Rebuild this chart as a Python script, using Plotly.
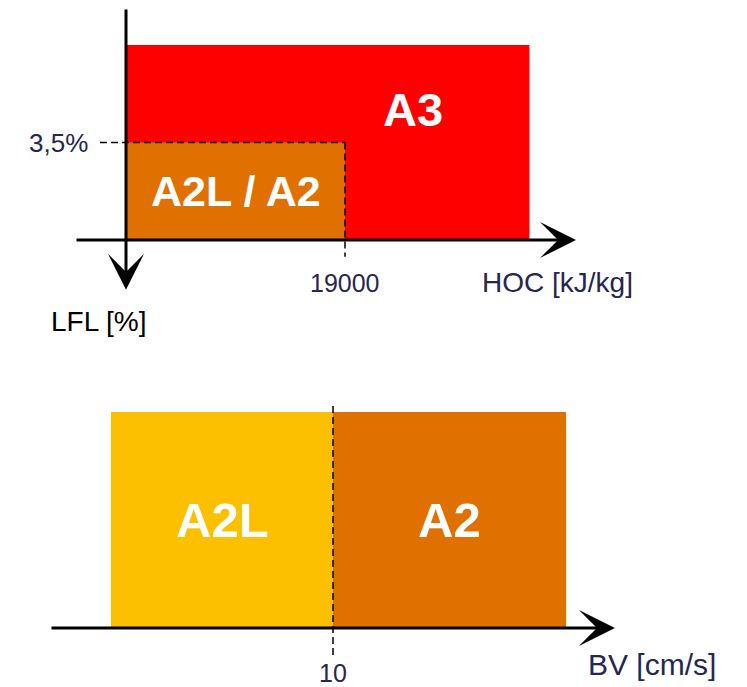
import plotly.graph_objects as go

# ---- data (schematic classification thresholds) ----
hoc_threshold = 19000          # kJ/kg
lfl_threshold = 3.5            # %
hoc_max = 35000                # right edge of A3 region
lfl_axis = 7.0                 # LFL value at HOC axis
bv_edges = [0, 10, 20.5]       # cm/s : A2L | A2
bv_height = 1.0
top_labels = ["A3", "A2L / A2"]
bottom_labels = ["A2L", "A2"]
tick_hoc = "19000"
tick_lfl = "3,5%"
tick_bv = "10"

RED = "#FF0000"
ORANGE = "#E07000"
YELLOW = "#FDC000"
TXT = "#262650"
FONT = "Liberation Sans, Arial, sans-serif"

W, H = 747, 687
split = 1 - 345 / H

fig = go.Figure()

# ---- top panel: shapes ----
fig.add_shape(type="rect", xref="x", yref="y", x0=0, x1=hoc_max, y0=0, y1=lfl_axis,
              fillcolor=RED, line_width=0, layer="below")
fig.add_shape(type="rect", xref="x", yref="y", x0=0, x1=hoc_threshold, y0=lfl_threshold, y1=lfl_axis,
              fillcolor=ORANGE, line_width=0, layer="below")
dash = "7px,4px"
fig.add_shape(type="line", xref="x", yref="y", x0=-2256, x1=hoc_threshold, y0=lfl_threshold, y1=lfl_threshold,
              line=dict(color="black", width=1.5, dash=dash))
fig.add_shape(type="line", xref="x", yref="y", x0=hoc_threshold, x1=hoc_threshold, y0=lfl_threshold, y1=7.6,
              line=dict(color="black", width=1.5, dash=dash))

# ---- bottom panel: shapes ----
fig.add_shape(type="rect", xref="x2", yref="y2", x0=bv_edges[0], x1=bv_edges[1], y0=0, y1=bv_height,
              fillcolor=YELLOW, line_width=0, layer="below")
fig.add_shape(type="rect", xref="x2", yref="y2", x0=bv_edges[1], x1=bv_edges[2], y0=0, y1=bv_height,
              fillcolor=ORANGE, line_width=0, layer="below")
fig.add_shape(type="line", xref="x2", yref="y2", x0=bv_edges[1], x1=bv_edges[1], y0=-0.125, y1=1.04,
              line=dict(color="black", width=1.5, dash=dash))

anns = []
def arrow(x, y, ax, ay, xr, yr):
    anns.append(dict(x=x, y=y, ax=ax, ay=ay, xref=xr, yref=yr, axref=xr, ayref=yr,
                     text="", showarrow=True, arrowhead=3, arrowwidth=3, arrowsize=2,
                     arrowcolor="black", standoff=0))

arrow(39040, lfl_axis, -4425, lfl_axis, "x", "y")      # HOC axis
arrow(0, 8.79, 0, -1.33, "x", "y")                     # LFL axis (downwards)
arrow(22.7, 0, -2.75, 0, "x2", "y2")                   # BV axis

def label(x, y, text, xr, yr, size, color=TXT, bold=False, xanchor="center"):
    anns.append(dict(x=x, y=y, xref=xr, yref=yr, text=f"<b>{text}</b>" if bold else text,
                     showarrow=False, xanchor=xanchor, yanchor="middle",
                     font=dict(family=FONT, size=size, color=color)))

label(-3123, lfl_threshold, tick_lfl, "x", "y", 26, xanchor="right")
label(hoc_threshold, 8.54, tick_hoc, "x", "y", 25)
label(30712, 8.54, "HOC [kJ/kg]", "x", "y", 28, xanchor="left")
label(-2429, 9.94, "LFL [%]", "x", "y", 28, color="black")
label(24900, 2.33, top_labels[0], "x", "y", 47, color="white", bold=True)
label((0 + hoc_threshold) / 2, (lfl_threshold + lfl_axis) / 2, top_labels[1], "x", "y", 43,
      color="white", bold=True)

label(bv_edges[1], -0.21, tick_bv, "x2", "y2", 25)
label(21.4, -0.171, "BV [cm/s]", "x2", "y2", 30, xanchor="left")
label((bv_edges[0] + bv_edges[1]) / 2, 0.5, bottom_labels[0], "x2", "y2", 49, color="white", bold=True)
label((bv_edges[1] + bv_edges[2]) / 2, 0.5, bottom_labels[1], "x2", "y2", 49, color="white", bold=True)

ax_common = dict(visible=False, showgrid=False, zeroline=False, fixedrange=True)
fig.update_layout(
    width=W, height=H, margin=dict(l=0, r=0, t=0, b=0),
    paper_bgcolor="white", plot_bgcolor="white", showlegend=False,
    xaxis=dict(domain=[0, 1], range=[-126 * 19000 / 219, 621 * 19000 / 219], anchor="y", **ax_common),
    yaxis=dict(domain=[split, 1], range=[(345 - 45) * 7 / 195, (0 - 45) * 7 / 195], anchor="x", **ax_common),
    xaxis2=dict(domain=[0, 1], range=[-111 / 22.2, (747 - 111) / 22.2], anchor="y2", **ax_common),
    yaxis2=dict(domain=[0, split], range=[-(687 - 628) / 216, (628 - 345) / 216], anchor="x2", **ax_common),
    annotations=anns,
)

fig.write_html("out.html", config={"displayModeBar": False},
               post_script="document.body.style.margin='0px';document.body.style.overflow='hidden';")
